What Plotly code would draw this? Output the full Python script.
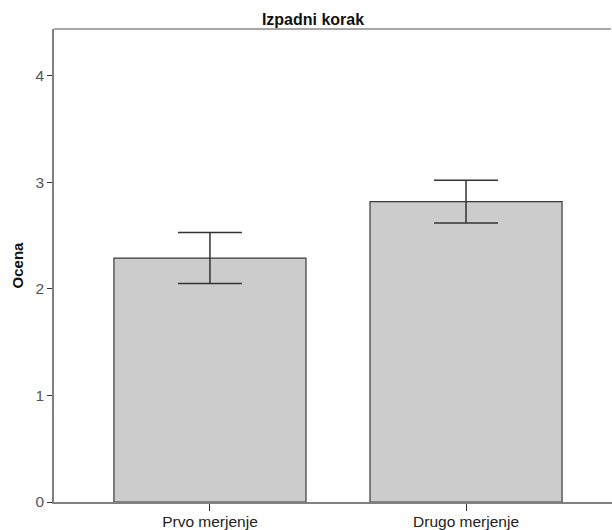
import plotly.graph_objects as go

categories = ["Prvo merjenje", "Drugo merjenje"]
means = [2.29, 2.82]
err_upper = [2.53, 3.02]
err_lower = [2.05, 2.62]
y_ticks = [0, 1, 2, 3, 4]

x_pos = list(range(len(categories)))
plus = [u - m for u, m in zip(err_upper, means)]
minus = [m - l for m, l in zip(means, err_lower)]

fig = go.Figure()
fig.add_trace(go.Bar(
    x=x_pos, y=means, width=0.75,
    marker=dict(color="#cccccc", line=dict(color="#3a3a3a", width=1.2)),
    error_y=dict(type="data", symmetric=False, array=plus, arrayminus=minus,
                 color="#333333", thickness=1.5, width=32),
    hoverinfo="skip",
))

# plot area continues past the visible window on the right, as in the reference
W = 623
fig.update_layout(
    width=W, height=530,
    margin=dict(l=54, r=0, t=29, b=28),
    paper_bgcolor="white", plot_bgcolor="white",
    showlegend=False,
    font=dict(family="Liberation Sans, Arial, sans-serif", size=15, color="#222"),
    title=dict(text="<b>Izpadni korak</b>", xref="paper", x=(313 - 54) / (W - 54),
               xanchor="center", yref="container", y=1 - 19 / 530, yanchor="middle",
               font=dict(size=16, color="#111")),
    xaxis=dict(
        range=[-0.609, 1.613], tickmode="array", tickvals=x_pos, ticktext=categories,
        showgrid=False, zeroline=False, showline=True, linecolor="#808080", linewidth=1.5,
        ticks="outside", ticklen=7, tickcolor="#333", tickwidth=1,
        ticklabelstandoff=-2,
        tickfont=dict(size=15.5, color="#222"),
    ),
    yaxis=dict(
        range=[0, 4.44], tickmode="array", tickvals=y_ticks,
        showgrid=False, zeroline=False, showline=True, linecolor="#808080", linewidth=1.5,
        ticks="outside", ticklen=5, tickcolor="#333", tickwidth=1,
        tickfont=dict(size=15.5, color="#555"),
        title=dict(text="<b>Ocena</b>", standoff=8, font=dict(size=15, color="#111")),
    ),
    shapes=[
        dict(type="line", xref="paper", yref="paper", x0=0, x1=(611 - 54) / (W - 54),
             y0=1, y1=1, line=dict(color="#8a8a8a", width=1.5)),
    ],
)

fig.write_html(
    "out.html",
    post_script="document.body.style.margin='0';document.body.style.overflow='hidden';"
                "document.documentElement.style.overflow='hidden';",
)
